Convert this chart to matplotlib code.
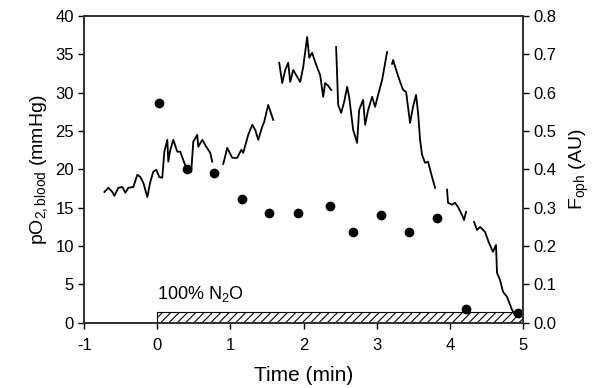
import numpy as np
import matplotlib
matplotlib.use("Agg")
import matplotlib.pyplot as plt

plt.rcParams['font.family'] = ['Liberation Sans', 'DejaVu Sans']
plt.rcParams['mathtext.fontset'] = 'custom'
plt.rcParams['mathtext.rm'] = 'Liberation Sans'
plt.rcParams['mathtext.it'] = 'Liberation Sans:italic'
plt.rcParams['axes.unicode_minus'] = False
plt.rcParams['hatch.linewidth'] = 0.8

# blood pO2 samples (left axis, mmHg)
po2_t = [0.02, 0.40, 0.78, 1.16, 1.53, 1.93, 2.36, 2.68, 3.06, 3.44, 3.83, 4.22, 4.93]
po2_v = [28.7, 20.1, 19.5, 16.2, 14.3, 14.3, 15.2, 11.9, 14.1, 11.9, 13.7, 1.8, 1.3]

# F_oph trace (right axis, AU), recorded in separate pieces
seg1_t = [-0.724, -0.669, -0.615, -0.587, -0.533, -0.478, -0.437, -0.396, -0.328, -0.273,
          -0.232, -0.191, -0.137, -0.096, -0.055, -0.014, 0.027, 0.068, 0.096, 0.137,
          0.150, 0.178, 0.219, 0.273, 0.314, 0.369, 0.410, 0.464, 0.492, 0.546,
          0.560, 0.615, 0.669, 0.724, 0.751]
seg1_v = [0.341, 0.352, 0.341, 0.331, 0.352, 0.354, 0.339, 0.352, 0.354, 0.386,
          0.380, 0.365, 0.328, 0.367, 0.394, 0.399, 0.380, 0.378, 0.446, 0.477,
          0.420, 0.451, 0.477, 0.446, 0.446, 0.417, 0.399, 0.394, 0.472, 0.490,
          0.459, 0.477, 0.459, 0.443, 0.420]
seg2_t = [0.902, 0.956, 1.025, 1.093, 1.148, 1.175, 1.243, 1.298, 1.339, 1.380,
          1.434, 1.462, 1.516, 1.585]
seg2_v = [0.414, 0.456, 0.430, 0.430, 0.451, 0.443, 0.490, 0.516, 0.503, 0.477,
          0.511, 0.524, 0.568, 0.529]
seg3_t = [1.667, 1.708, 1.749, 1.790, 1.817, 1.858, 1.913, 1.954, 1.995, 2.049,
          2.077, 2.117, 2.158, 2.199, 2.227, 2.268, 2.295, 2.336, 2.377]
seg3_v = [0.678, 0.625, 0.659, 0.678, 0.628, 0.659, 0.641, 0.628, 0.667, 0.745,
          0.691, 0.704, 0.680, 0.659, 0.646, 0.589, 0.625, 0.618, 0.607]
seg4_t = [2.445, 2.473, 2.514, 2.555, 2.596, 2.623, 2.678, 2.732, 2.760, 2.814,
          2.842, 2.883, 2.937, 2.978, 3.019, 3.074, 3.142]
seg4_v = [0.719, 0.568, 0.547, 0.576, 0.615, 0.589, 0.503, 0.469, 0.555, 0.581,
          0.516, 0.555, 0.589, 0.563, 0.594, 0.633, 0.706]
seg5_t = [3.210, 3.224, 3.279, 3.320, 3.361, 3.402, 3.456, 3.497, 3.538, 3.566,
          3.593, 3.620, 3.661, 3.702, 3.757, 3.798]
seg5_v = [0.675, 0.685, 0.651, 0.628, 0.607, 0.602, 0.521, 0.563, 0.594, 0.547,
          0.477, 0.438, 0.417, 0.420, 0.380, 0.352]
seg6_t = [3.962, 3.975, 4.030, 4.071, 4.112, 4.167, 4.194, 4.221]
seg6_v = [0.347, 0.313, 0.308, 0.313, 0.302, 0.281, 0.268, 0.289]
seg7_t = [4.331, 4.372, 4.413, 4.481, 4.536, 4.590, 4.631, 4.645, 4.686, 4.727,
          4.781, 4.850, 4.891, 4.932, 4.973]
seg7_v = [0.263, 0.242, 0.250, 0.237, 0.208, 0.185, 0.203, 0.130, 0.112, 0.081,
          0.068, 0.034, 0.021, 0.029, 0.021]

segments = [(seg1_t, seg1_v), (seg2_t, seg2_v), (seg3_t, seg3_v), (seg4_t, seg4_v),
            (seg5_t, seg5_v), (seg6_t, seg6_v), (seg7_t, seg7_v)]

n2o_start, n2o_end, n2o_height = 0, 5, 1.4

fig = plt.figure(figsize=(5.97, 3.88), dpi=100)
ax = fig.add_axes([0.141, 0.168, 0.735, 0.791])
ax2 = ax.twinx()

ax.bar([n2o_start], [n2o_height], width=n2o_end - n2o_start, align='edge',
       color='white', edgecolor='black', hatch='////', linewidth=0.8, zorder=2)
ax.scatter(po2_t, po2_v, s=36, color='black', zorder=4)
ax.text(0.0, 2.5, '100% N$_2$O', fontsize=13, ha='left', va='bottom')

for t, v in segments:
    ax2.plot(t, v, color='black', lw=1.3)

ax.set_xlim(-1, 5)
ax.set_ylim(0, 40)
ax2.set_ylim(0, 0.8)
ax.set_xticks(range(-1, 6))
ax.set_yticks(range(0, 45, 5))
ax2.set_yticks(np.arange(0, 0.81, 0.1))
ax2.set_yticklabels(['%.1f' % v for v in np.arange(0, 0.81, 0.1)])

for a in (ax, ax2):
    a.tick_params(direction='out', length=4, width=1, labelsize=12, colors='black')
    for s in a.spines.values():
        s.set_linewidth(1.3)
        s.set_color('#333333')
ax.tick_params(axis='x', pad=7)

ax.set_xlabel('Time (min)', fontsize=15, labelpad=9)
ax.set_ylabel(r'pO$_{\mathrm{2,blood}}$ (mmHg)', fontsize=14, labelpad=4)
ax2.set_ylabel(r'F$_{\mathrm{oph}}$ (AU)', fontsize=14, labelpad=8)

fig.savefig('out.png', dpi=100)
